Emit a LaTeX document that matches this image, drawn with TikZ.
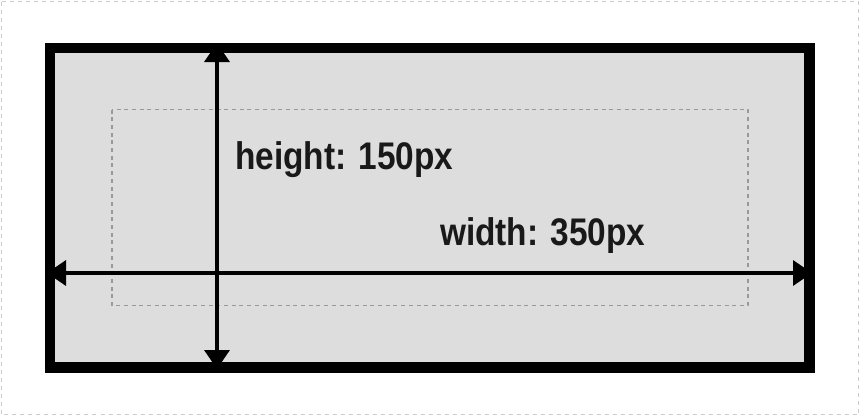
\documentclass[tikz,border=0pt]{standalone}
\usepackage{fontspec}
\newfontfamily\lblfont[FakeStretch=0.867]{Liberation Sans}
\usetikzlibrary{arrows.meta}
\definecolor{boxfill}{HTML}{DDDDDD}
\definecolor{dotgray}{HTML}{999999}
\definecolor{framegray}{HTML}{CCCCCC}
\tikzset{
  frameline/.style={draw=framegray, line width=1.3pt, dash pattern=on 4pt off 4pt},
  boxline/.style={draw=black, line width=10.5pt, fill=boxfill},
  innerline/.style={draw=dotgray, line width=1.3pt, dash pattern=on 4pt off 3.7pt},
  dimarrow/.style={draw=black, line width=3.5pt, {Triangle[width=25pt,length=19pt]}-{Triangle[width=25pt,length=19pt]}},
  lbl/.style={font=\lblfont\bfseries\fontsize{38.5pt}{40pt}\selectfont, inner sep=0pt, anchor=base west, text=black!90}
}
\begin{document}
\begin{tikzpicture}[x=1pt,y=-1pt]
\useasboundingbox (0,0) rectangle (860,416);
\draw[frameline] (1.5,1.5) rectangle (858.5,414.5);
\fill[boxfill] (50,48) rectangle (809.5,367.5);
\draw[innerline] (112,109.5) rectangle (748,305.5);
\coordinate (top) at (217,43);
\coordinate (bottom) at (217,369);
\coordinate (left) at (47,273);
\coordinate (right) at (812,273);
\draw[dimarrow] (top) -- (bottom);
\draw[dimarrow] (left) -- (right);
\draw[black, line width=10.5pt] (50,48) rectangle (809.5,367.5);
\node[lbl] (hlabel) at (235,169.3) {height: 150px};
\node[lbl] (wlabel) at (440,245.7) {width: 350px};
\end{tikzpicture}
\end{document}
